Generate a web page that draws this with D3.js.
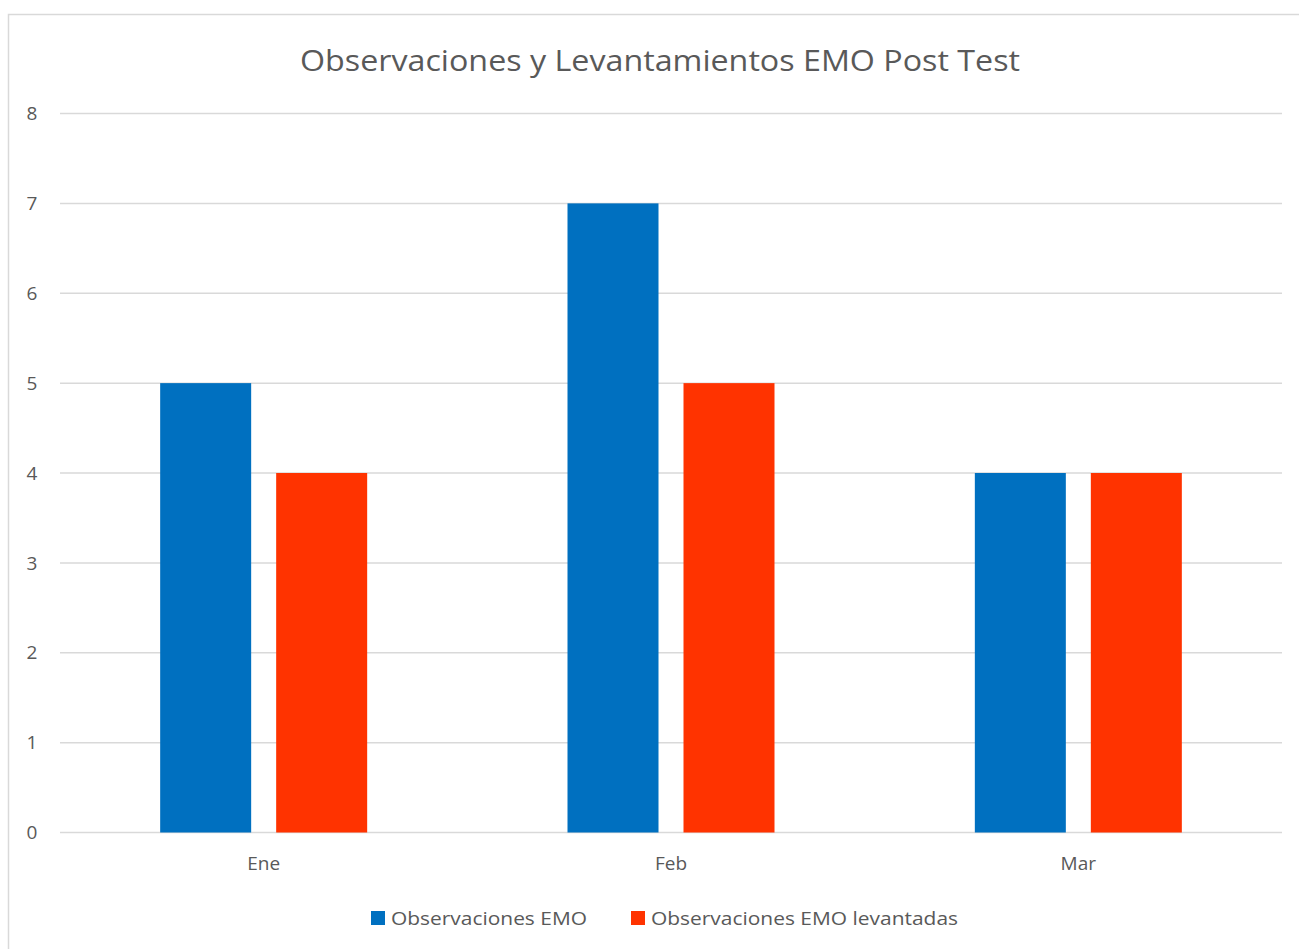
<!DOCTYPE html>
<html>
<head>
<meta charset="utf-8">
<script src="https://cdn.jsdelivr.net/npm/d3@7"></script>
<style>
  body { margin: 0; background: #fff; }
  text { font-family: "Open Sans", "Noto Sans", sans-serif; fill: #595959; }
</style>
</head>
<body>
<svg id="chart" width="1299" height="949"></svg>
<script>
const months = ["Ene", "Feb", "Mar"];
const seriesNames = ["Observaciones EMO", "Observaciones EMO levantadas"];
const observaciones = [5, 7, 4];
const levantadas = [4, 5, 4];
const yTicks = [0, 1, 2, 3, 4, 5, 6, 7, 8];
const colors = ["#0070C0", "#FF3300"];

const svg = d3.select("#chart");
const plot = { left: 60, right: 1282, top: 113.5, bottom: 832.5 };

// chart frame
svg.append("rect")
  .attr("x", 8.5).attr("y", 14.5)
  .attr("width", 1302).attr("height", 950)
  .attr("fill", "#fff")
  .attr("stroke", "#d9d9d9")
  .attr("stroke-width", 1.5);

svg.append("text")
  .attr("x", 660).attr("y", 71)
  .attr("text-anchor", "middle")
  .attr("font-size", 30)
  .attr("textLength", 720)
  .attr("lengthAdjust", "spacingAndGlyphs")
  .text("Observaciones y Levantamientos EMO Post Test");

const x = d3.scaleBand().domain(months).range([plot.left, plot.right]);
const y = d3.scaleLinear().domain([0, 8]).range([plot.bottom, plot.top]);
const barW = 91, barGap = 25;
const groupW = barW * 2 + barGap;

// gridlines
svg.append("g")
  .selectAll("line")
  .data(yTicks)
  .join("line")
  .attr("x1", plot.left).attr("x2", plot.right)
  .attr("y1", d => y(d)).attr("y2", d => y(d))
  .attr("stroke", "#d9d9d9")
  .attr("stroke-width", 1.5);

// y labels
svg.append("g")
  .selectAll("text")
  .data(yTicks)
  .join("text")
  .attr("x", 32).attr("y", d => y(d))
  .attr("dy", "0.35em")
  .attr("text-anchor", "middle")
  .attr("font-size", 19)
  .text(d => d);

const table = months.map((m, i) => ({ month: m, values: [observaciones[i], levantadas[i]] }));

const groups = svg.append("g")
  .selectAll("g")
  .data(table)
  .join("g")
  .attr("transform", d => `translate(${x(d.month) + (x.bandwidth() - groupW) / 2},0)`);

groups.selectAll("rect")
  .data(d => d.values)
  .join("rect")
  .attr("x", (d, i) => i * (barW + barGap))
  .attr("width", barW)
  .attr("y", d => y(d))
  .attr("height", d => y(0) - y(d))
  .attr("fill", (d, i) => colors[i]);

// x labels
svg.append("g")
  .selectAll("text")
  .data(months)
  .join("text")
  .attr("x", d => x(d) + x.bandwidth() / 2)
  .attr("y", 870)
  .attr("text-anchor", "middle")
  .attr("font-size", 19)
  .text(d => d);

// legend
const legendX = [371, 631];
const legendLen = [196, 307];
const legend = svg.append("g")
  .selectAll("g")
  .data(seriesNames)
  .join("g")
  .attr("transform", (d, i) => `translate(${legendX[i]},911)`);
legend.append("rect")
  .attr("width", 14).attr("height", 14)
  .attr("fill", (d, i) => colors[i]);
legend.append("text")
  .attr("x", 20).attr("y", 7)
  .attr("dy", "0.35em")
  .attr("font-size", 19)
  .attr("textLength", (d, i) => legendLen[i])
  .attr("lengthAdjust", "spacingAndGlyphs")
  .text(d => d);
</script>
</body>
</html>
